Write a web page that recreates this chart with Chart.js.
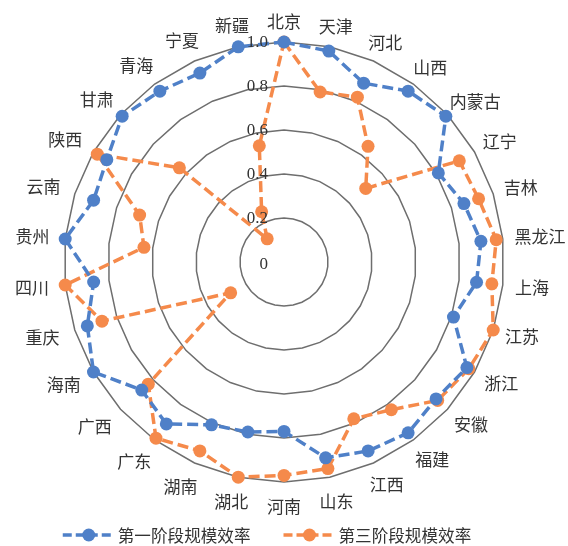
<!DOCTYPE html>
<html>
<head>
<meta charset="utf-8">
<script src="https://cdn.jsdelivr.net/npm/chart.js@4/dist/chart.umd.min.js"></script>
<style>
  html, body { margin: 0; padding: 0; background: #ffffff; }
  #wrap { width: 568px; height: 546px; position: relative; }
</style>
</head>
<body>
<div id="wrap"><canvas id="c" width="568" height="546"></canvas></div>
<script>
const categories = ['北京','天津','河北','山西','内蒙古','辽宁','吉林','黑龙江','上海','江苏',
  '浙江','安徽','福建','江西','山东','河南','湖北','湖南','广东','广西',
  '海南','重庆','四川','贵州','云南','陕西','甘肃','青海','宁夏','新疆'];

const stage1Label = '第一阶段规模效率';
const stage1Values = [1.00, 0.98, 0.89, 0.96, 0.99, 0.81, 0.86, 0.90, 0.88, 0.81,
  0.96, 0.93, 0.96, 0.94, 0.91, 0.77, 0.79, 0.81, 0.91, 0.87,
  1.00, 0.94, 0.87, 1.00, 0.91, 0.93, 0.99, 0.96, 0.94, 1.00];

const stage3Label = '第三阶段规模效率';
const stage3Values = [1.00, 0.79, 0.82, 0.65, 0.50, 0.92, 0.93, 0.97, 0.95, 1.00,
  0.97, 0.94, 0.83, 0.78, 0.96, 0.97, 1.00, 0.94, 0.99, 0.83,
  0.28, 0.87, 1.00, 0.64, 0.69, 0.98, 0.64, 0.13, 0.25, 0.54];

const tickLabels = ['0', '0.2', '0.4', '0.6', '0.8', '1.0'];

const BLUE = '#4f80c8';
const ORANGE = '#f58a4b';
const TEXT = '#333333';
const CJK = '"Noto Sans CJK SC", "Noto Sans", sans-serif';
const SERIF = '"Liberation Serif", "DejaVu Serif", serif';

// Draws the tick labels (including "0") and the point labels using the radial scale.
const radarText = {
  id: 'radarText',
  afterDraw(chart) {
    const scale = chart.scales.r;
    const ctx = chart.ctx;
    ctx.save();
    // tick labels
    ctx.font = '17px ' + SERIF;
    ctx.fillStyle = TEXT;
    ctx.textAlign = 'right';
    ctx.textBaseline = 'middle';
    scale.ticks.forEach((t, i) => {
      const d = scale.getDistanceFromCenterForValue(t.value);
      const label = tickLabels[i] !== undefined ? tickLabels[i] : String(t.value);
      ctx.fillText(label, scale.xCenter - 16, scale.yCenter - d + (i === 0 ? 3 : 1));
    });
    // point labels
    ctx.font = '17px ' + CJK;
    ctx.textAlign = 'center';
    ctx.textBaseline = 'middle';
    const h = 17;
    chart.data.labels.forEach((lab, i) => {
      const ang = scale.getIndexAngle(i);
      const s = Math.sin(ang), c = Math.cos(ang);
      const pad = 12 + (s < 0 ? 4 * (-s) : 0) + (c < 0 ? 4 * (-c) : 0);
      const p = scale.getPointPosition(i, scale.drawingArea + pad);
      const w = ctx.measureText(lab).width;
      ctx.fillText(lab, p.x + s * w / 2, p.y - c * h / 2);
    });
    ctx.restore();
  }
};

// Legend with dashed line + dot markers, drawn below the plot.
const lineLegend = {
  id: 'lineLegend',
  afterDraw(chart) {
    const ctx = chart.ctx;
    ctx.save();
    ctx.font = '16.6px ' + CJK;
    ctx.textBaseline = 'middle';
    ctx.textAlign = 'left';
    const y = 535;
    const lineW = 52, gap = 3, itemGap = 33;
    const items = chart.data.datasets.map(ds => ({
      text: ds.label, color: ds.borderColor, w: ctx.measureText(ds.label).width
    }));
    const total = items.reduce((a, it) => a + lineW + gap + it.w, 0) + itemGap * (items.length - 1);
    let x = 267 - total / 2;
    items.forEach(it => {
      ctx.strokeStyle = it.color;
      ctx.lineWidth = 3.5;
      ctx.setLineDash([9, 4]);
      ctx.beginPath();
      ctx.moveTo(x, y);
      ctx.lineTo(x + lineW, y);
      ctx.stroke();
      ctx.setLineDash([]);
      ctx.fillStyle = it.color;
      ctx.beginPath();
      ctx.arc(x + lineW / 2, y, 6.5, 0, Math.PI * 2);
      ctx.fill();
      ctx.fillStyle = TEXT;
      ctx.fillText(it.text, x + lineW + gap, y + 1);
      x += lineW + gap + it.w + itemGap;
    });
    ctx.restore();
  }
};

new Chart(document.getElementById('c'), {
  type: 'radar',
  data: {
    labels: categories,
    datasets: [
      {
        label: stage1Label,
        data: stage1Values,
        borderColor: BLUE,
        backgroundColor: BLUE,
        pointBackgroundColor: BLUE,
        pointBorderColor: BLUE,
        borderWidth: 3.5,
        borderDash: [11, 5],
        pointRadius: 6.5,
        pointBorderWidth: 0,
        fill: false,
        tension: 0,
        clip: false
      },
      {
        label: stage3Label,
        data: stage3Values,
        borderColor: ORANGE,
        backgroundColor: ORANGE,
        pointBackgroundColor: ORANGE,
        pointBorderColor: ORANGE,
        borderWidth: 3.5,
        borderDash: [11, 5],
        pointRadius: 6.5,
        pointBorderWidth: 0,
        fill: false,
        tension: 0,
        clip: false
      }
    ]
  },
  options: {
    responsive: false,
    animation: false,
    devicePixelRatio: 1,
    layout: { padding: { left: 64, right: 64, top: 42, bottom: 64 } },
    plugins: {
      legend: { display: false },
      tooltip: { enabled: false }
    },
    scales: {
      r: {
        min: 0,
        max: 1,
        ticks: {
          stepSize: 0.2,
          display: false,
          callback: (v, i) => tickLabels[i]
        },
        grid: { color: '#6e6e6e', lineWidth: 1.5, circular: false },
        angleLines: { display: false },
        pointLabels: { display: false }
      }
    }
  },
  plugins: [radarText, lineLegend]
});
</script>
</body>
</html>
